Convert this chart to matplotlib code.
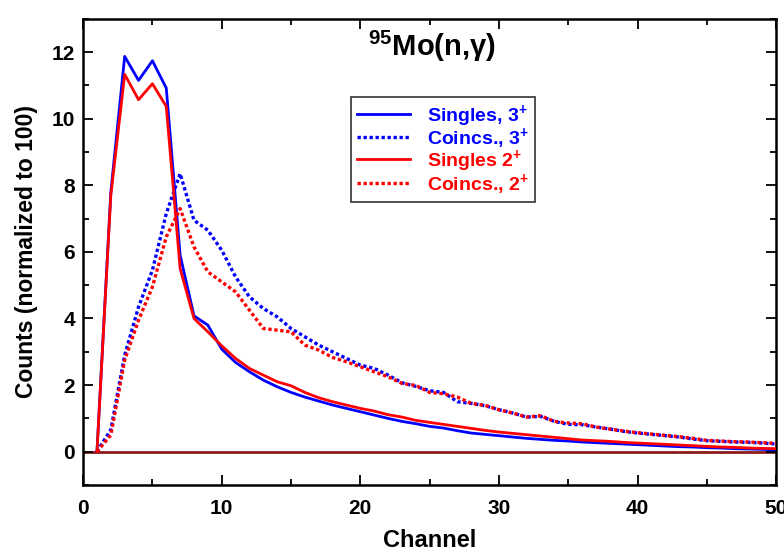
import matplotlib
matplotlib.use("Agg")
import matplotlib.pyplot as plt
from matplotlib.ticker import MultipleLocator

plt.rcParams["font.family"] = ["Liberation Sans", "DejaVu Sans"]
plt.rcParams["font.weight"] = "bold"
plt.rcParams["mathtext.fontset"] = "custom"
plt.rcParams["mathtext.rm"] = "Liberation Sans:bold"
plt.rcParams["mathtext.it"] = "Liberation Sans:bold"
plt.rcParams["mathtext.bf"] = "Liberation Sans:bold"
plt.rcParams["mathtext.default"] = "rm"

channels = list(range(1, 51))

singles_3 = [0, 7.8, 11.87, 11.15, 11.74, 10.92, 5.9, 4.08, 3.8, 3.08,
             2.68, 2.4, 2.15, 1.95, 1.78, 1.64, 1.52, 1.4, 1.3, 1.2,
             1.1, 1.0, 0.91, 0.84, 0.76, 0.71, 0.63, 0.56, 0.52, 0.48,
             0.44, 0.40, 0.37, 0.34, 0.32, 0.29, 0.27, 0.25, 0.23, 0.21,
             0.19, 0.17, 0.15, 0.14, 0.12, 0.11, 0.09, 0.08, 0.07, 0.05]

coincs_3 = [0, 0.66, 2.9, 4.35, 5.45, 7.15, 8.35, 6.95, 6.65, 6.05,
            5.25, 4.65, 4.3, 4.05, 3.7, 3.45, 3.2, 3.0, 2.8, 2.6,
            2.5, 2.3, 2.07, 1.96, 1.83, 1.78, 1.5, 1.45, 1.38, 1.26,
            1.16, 1.04, 1.06, 0.91, 0.82, 0.81, 0.74, 0.68, 0.61, 0.56,
            0.52, 0.48, 0.44, 0.38, 0.33, 0.31, 0.29, 0.28, 0.26, 0.23]

singles_2 = [0, 7.7, 11.33, 10.57, 11.05, 10.37, 5.5, 4.0, 3.6, 3.18,
             2.8, 2.5, 2.3, 2.1, 1.98, 1.78, 1.62, 1.5, 1.4, 1.3,
             1.22, 1.11, 1.04, 0.94, 0.88, 0.82, 0.76, 0.7, 0.64, 0.59,
             0.55, 0.51, 0.47, 0.43, 0.39, 0.35, 0.33, 0.31, 0.28, 0.26,
             0.24, 0.22, 0.2, 0.18, 0.16, 0.14, 0.13, 0.11, 0.1, 0.09]

coincs_2 = [0, 0.5, 2.75, 3.95, 4.95, 6.45, 7.3, 6.15, 5.4, 5.1,
            4.8, 4.25, 3.7, 3.65, 3.6, 3.2, 3.05, 2.83, 2.7, 2.55,
            2.4, 2.25, 2.05, 1.99, 1.78, 1.74, 1.64, 1.45, 1.39, 1.26,
            1.16, 1.04, 1.08, 0.91, 0.86, 0.84, 0.74, 0.68, 0.62, 0.57,
            0.53, 0.49, 0.45, 0.4, 0.34, 0.32, 0.3, 0.29, 0.27, 0.25]

labels = ["Singles, 3$^{+}$", "Coincs., 3$^{+}$", "Singles 2$^{+}$", "Coincs., 2$^{+}$"]

fig = plt.figure(figsize=(7.84, 5.53), dpi=100)
ax = fig.add_axes([0.106, 0.123, 0.884, 0.843])

ax.axhline(0, color="#8b1c1c", lw=2.0, zorder=1)

dot = (0, (1.0, 0.8))
ax.plot(channels, singles_3, color="#0000ff", lw=2.0, label=labels[0], zorder=2)
ax.plot(channels, coincs_3, color="#0000ff", lw=2.4, ls=dot, label=labels[1], zorder=2)
ax.plot(channels, singles_2, color="#ff0000", lw=2.0, label=labels[2], zorder=3)
ax.plot(channels, coincs_2, color="#ff0000", lw=2.4, ls=dot, label=labels[3], zorder=3)

ax.set_xlim(0, 50)
ax.set_ylim(-1, 13)
ax.xaxis.set_major_locator(MultipleLocator(10))
ax.xaxis.set_minor_locator(MultipleLocator(5))
ax.yaxis.set_major_locator(MultipleLocator(2))
ax.yaxis.set_minor_locator(MultipleLocator(1))
ax.tick_params(which="both", direction="in", top=True, right=True, width=1.3)
ax.tick_params(which="major", length=7, labelsize=15)
ax.tick_params(axis="x", which="major", pad=10)
ax.tick_params(axis="y", which="major", pad=6)
ax.tick_params(which="minor", length=4)
for s in ax.spines.values():
    s.set_linewidth(1.8)

ax.set_xlabel("Channel", fontsize=17, fontweight="bold", labelpad=8)
ax.set_ylabel("Counts (normalized to 100)", fontsize=16.5, fontweight="bold", labelpad=10)

ax.text(0.503, 0.94, "$^{95}$Mo(n,γ)", transform=ax.transAxes, ha="center", va="center",
        fontsize=21, fontweight="bold")

leg = ax.legend(loc="upper left", bbox_to_anchor=(0.387, 0.8326), borderaxespad=0,
                fontsize=14, frameon=True, fancybox=False, handlelength=2.7,
                handletextpad=0.9, borderpad=0.3, labelspacing=-0.14)
leg.get_frame().set_edgecolor("black")
leg.get_frame().set_linewidth(1.2)
for t, c in zip(leg.get_texts(), ["#0000ff", "#0000ff", "#ff0000", "#ff0000"]):
    t.set_color(c)

fig.savefig("out.png", dpi=100)
